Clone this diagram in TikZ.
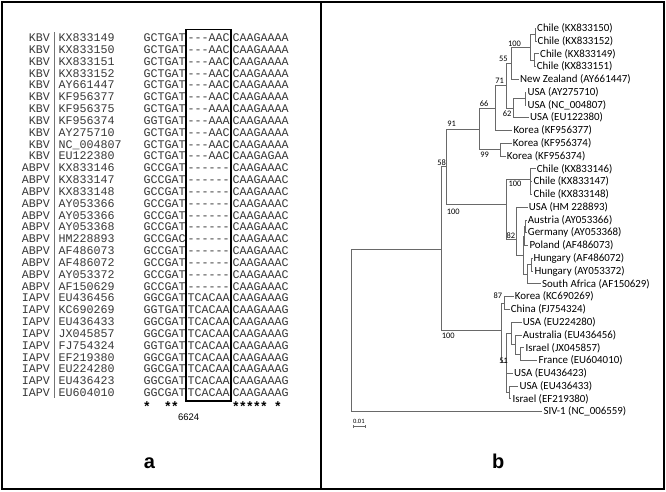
\documentclass[tikz,border=0pt]{standalone}
\usepackage{fontspec}
\setmainfont{Liberation Sans}
\setmonofont{Liberation Mono}
\newfontfamily\treefont{Carlito}
\usetikzlibrary{arrows.meta}
\definecolor{seqgray}{RGB}{55,55,55}
\definecolor{branchgray}{RGB}{105,105,105}

\begin{document}
\begin{tikzpicture}[x=1pt, y=-1pt,
    seq/.style={font=\ttfamily\fontsize{11.67}{12}\selectfont, text=seqgray, inner sep=0pt, anchor=base},
    leaf/.style={font=\treefont\fontsize{10.9}{12}\selectfont, inner sep=0pt, anchor=west, xshift=1pt},
    boot/.style={font=\treefont\fontsize{8.4}{9}\selectfont, inner sep=0pt},
    branch/.style={draw=branchgray, line width=0.9pt}]
        \useasboundingbox (0,0) rectangle (666,491);

        % Frame and panels
        \draw[line width=2pt] (1.5,1.5) rectangle (664,488.5);
        \draw[line width=2pt] (320.7,1.5) -- (320.7,488.5);

        % Alignment (a)
        \foreach \grp/\acc/\pre/\gap/\suf [count=\i] in {
            KBV/KX833149/GCTGAT/---AAC/CAAGAAAA,
            KBV/KX833150/GCTGAT/---AAC/CAAGAAAA,
            KBV/KX833151/GCTGAT/---AAC/CAAGAAAA,
            KBV/KX833152/GCTGAT/---AAC/CAAGAAAA,
            KBV/AY661447/GCTGAT/---AAC/CAAGAAAA,
            KBV/KF956377/GCTGAT/---AAC/CAAGAAAA,
            KBV/KF956375/GCTGAT/---AAA/CAAGAAAA,
            KBV/KF956374/GGTGAT/---AAA/CAAGAAAA,
            KBV/AY275710/GCTGAT/---AAC/CAAGAAAA,
            KBV/NC\_004807/GCTGAT/---AAC/CAAGAAAA,
            KBV/EU122380/GCTGAT/---AAC/CAAGAGAA,
            ABPV/KX833146/GCCGAT/------/CAAGAAAC,
            ABPV/KX833147/GCCGAT/------/CAAGAAAC,
            ABPV/KX833148/GCCGAT/------/CAAGAAAC,
            ABPV/AY053366/GCCGAT/------/CAAGAAAC,
            ABPV/AY053366/GCCGAT/------/CAAGAAAC,
            ABPV/AY053368/GCCGAT/------/CAAGAAAC,
            ABPV/HM228893/GCCGAC/------/CAAGAAAC,
            ABPV/AF486073/GCCGAT/------/CAAGAAAC,
            ABPV/AF486072/GCCGAT/------/CAAGAAAC,
            ABPV/AY053372/GCCGAT/------/CAAGAAAC,
            ABPV/AF150629/GCCGAT/------/CAAGAAAC,
            IAPV/EU436456/GGCGAT/TCACAA/CAAGAAAG,
            IAPV/KC690269/GGTGAT/TCACAA/CAAGAAAG,
            IAPV/EU436433/GGCGAT/TCACAA/CAAGAAAG,
            IAPV/JX045857/GGCGAT/TCACAA/CAAGAAAG,
            IAPV/FJ754324/GGTGAT/TCACAA/CAAGAAAG,
            IAPV/EF219380/GGCGAT/TCACAA/CAAGAAAG,
            IAPV/EU224280/GGCGAT/TCACAA/CAAGAAAG,
            IAPV/EU436423/GGCGAT/TCACAA/CAAGAAAG,
            IAPV/EU604010/GGCGAT/TCACAA/CAAGAAAG} {
          \node[seq, anchor=base east] (grp\i) at (50,{41.6+11.83*(\i-1)}) {\grp};
          \node[seq, anchor=base west] (acc\i) at (58.3,{41.6+11.83*(\i-1)}) {\acc};
          \node[seq, anchor=base west] (pre\i) at (143.3,{41.6+11.83*(\i-1)}) {\pre};
          \node[seq] (gap\i) at (208.6,{41.6+11.83*(\i-1)}) {\gap};
          \node[seq, anchor=base west] (suf\i) at (232.3,{41.6+11.83*(\i-1)}) {\suf};
        }
        \draw[black!55, line width=0.8pt] (54.3,32) -- (54.3,398);
        \draw[line width=1.3pt] (186,29.3) rectangle (231,401);

        % Conserved columns
        \foreach \ax [count=\k] in {146.8,167.8,174.8,235.8,242.8,249.8,256.8,263.8,277.8}
          \node[seq, text=black, font=\ttfamily\bfseries\fontsize{13.5}{14}\selectfont] (ast\k) at (\ax,411) {*};
        \node[font=\fontsize{9.5}{10}\selectfont] (pos) at (188.7,417.7) {6624};
        \node[font=\bfseries\fontsize{20}{22}\selectfont, anchor=base] (panela) at (149.5,468.3) {a};

        % Tree (b): leaves
        \foreach \lab/\tx [count=\i] in {
            Chile (KX833150)/536, Chile (KX833152)/536.5, Chile (KX833149)/539,
            Chile (KX833151)/535.7, New Zealand (AY661447)/519, USA (AY275710)/526.3,
            USA (NC\_004807)/526.3, USA (EU122380)/529, Korea (KF956377)/512.3,
            Korea (KF956374)/511.7, Korea (KF956374)/505.7, Chile (KX833146)/535.7,
            Chile (KX833147)/532.3, Chile (KX833148)/532.3, USA (HM 228893)/527.7,
            Austria (AY053366)/526.7, Germany (AY053368)/526.7, Poland (AF486073)/528.3,
            Hungary (AF486072)/532.3, Hungary (AY053372)/533.3, South Africa (AF150629)/541,
            Korea (KC690269)/513.7, China (FJ754324)/509.7, USA (EU224280)/521.7,
            Australia (EU436456)/521.7, Israel (JX045857)/524.3, France (EU604010)/537.3,
            USA (EU436423)/513, USA (EU436433)/518.3, Israel (EF219380)/511.3,
            SIV-1 (NC\_006559)/542.3} {
          \coordinate (t\i) at (\tx,{28.3+12.78*(\i-1)});
          \node[leaf] (l\i) at (t\i) {\lab};
        }

        % Tree (b): internal nodes
        \coordinate (c12) at (535,34.7);
        \coordinate (c34) at (534.3,60.25);
        \coordinate (c4) at (530,47.5);
        \coordinate (c55) at (511,63.5);
        \coordinate (c67) at (525,98.6);
        \coordinate (c62) at (513.3,108.2);
        \coordinate (c71) at (506,85.8);
        \coordinate (c66) at (495,108.2);
        \coordinate (c99) at (500,149.7);
        \coordinate (c91) at (479,129);
        \coordinate (c3) at (530.7,179.5);
        \coordinate (ag) at (525.5,226.4);
        \coordinate (agp) at (524.3,236);
        \coordinate (hh) at (531.5,264.7);
        \coordinate (sah) at (527.5,274.3);
        \coordinate (eu) at (523,255.2);
        \coordinate (c82) at (516.7,239);
        \coordinate (cab) at (506,204);
        \coordinate (c58) at (446.7,166.5);
        \coordinate (p87) at (504,303);
        \coordinate (pif) at (520,354.2);
        \coordinate (aif) at (515,344.6);
        \coordinate (uaif) at (511.5,333.4);
        \coordinate (p2930) at (509,392.5);
        \coordinate (p51) at (506.5,362);
        \coordinate (ci) at (501.7,330.7);
        \coordinate (cx) at (441.7,249);
        \coordinate (root) at (351,330.35);

        % Branches
        \foreach \p/\c in {c12/t1, c12/t2, c34/t3, c34/t4, c4/c12, c4/c34, c55/c4, c55/t5,
            c67/t6, c67/t7, c62/c67, c62/t8, c71/c55, c71/c62, c66/c71, c66/t9,
            c99/t10, c99/t11, c91/c66, c91/c99, c3/t12, c3/t13, c3/t14,
            ag/t16, ag/t17, agp/ag, agp/t18, hh/t19, hh/t20, sah/hh, sah/t21,
            eu/agp, eu/sah, c82/t15, c82/eu, cab/c3, cab/c82, c58/c91, c58/cab,
            p87/t22, p87/t23, pif/t26, pif/t27, aif/t25, aif/pif, uaif/t24, uaif/aif,
            p2930/t29, p2930/t30, p51/uaif, p51/t28, p51/p2930, ci/p87, ci/p51,
            cx/c58, cx/ci, root/cx, root/t31}
          \draw[branch] (\p) |- (\c);

        % Bootstrap values
        \foreach \bv/\bx/\by [count=\k] in {100/514.5/43.3, 55/503.3/58.8, 71/499.7/80.8,
            62/507/113.5, 66/484.2/103.3, 91/451.7/124.2, 99/484.5/154.5, 58/441.7/162.7,
            100/515/183.3, 100/453.3/211.8, 82/510.8/235.8, 87/497.8/295.8,
            100/448.3/335.5, 51/503.7/360.8}
          \node[boot] (bs\k) at (\bx,\by) {\bv};

        % Scale bar
        \coordinate (sb1) at (353.3,426.7);
        \coordinate (sb2) at (366,426.7);
        \draw[branch, line width=0.8pt, {Bar[width=3pt]}-{Bar[width=3pt]}] (sb1) -- (sb2);
        \node[boot, font=\treefont\fontsize{6.5}{7}\selectfont] (sbl) at (358.8,421.3) {0.01};

        \node[font=\bfseries\fontsize{20}{22}\selectfont, anchor=base] (panelb) at (498.3,468.3) {b};
      \end{tikzpicture}
\end{document}
